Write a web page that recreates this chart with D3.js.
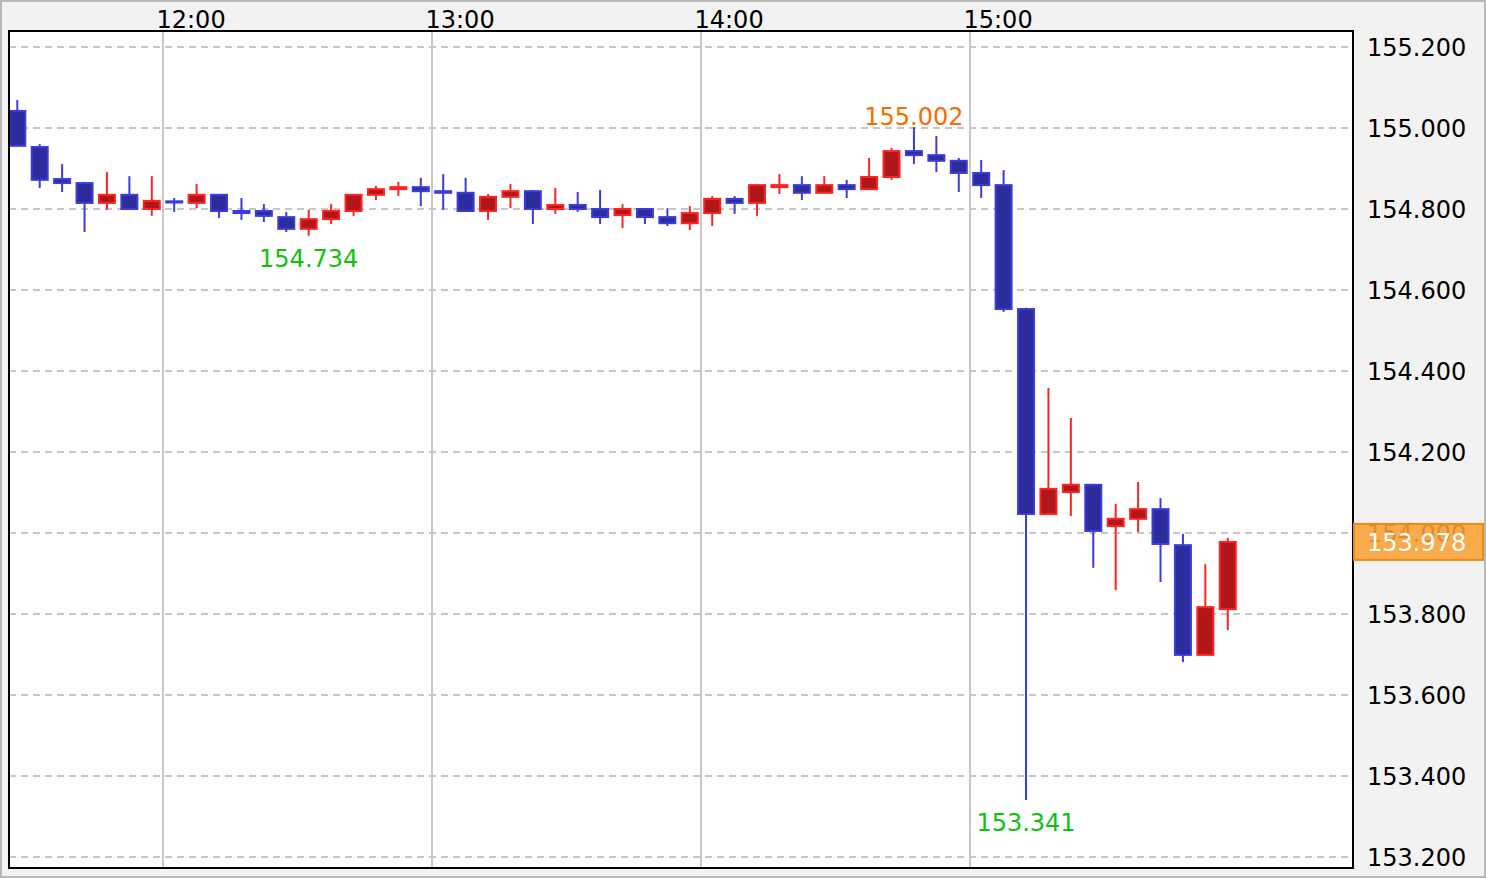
<!DOCTYPE html>
<html>
<head>
<meta charset="utf-8">
<script src="https://cdn.jsdelivr.net/npm/d3@7/dist/d3.min.js"></script>
<style>
  html, body { margin: 0; padding: 0; background: #f2f2f2; }
  svg { display: block; }
  text { font-family: "DejaVu Sans", Verdana, sans-serif; }
</style>
</head>
<body>
<svg id="chart" width="1486" height="878"></svg>
<script>
// ---- data (5-minute candles) ----
const times = ["11:25","11:30","11:35","11:40","11:45","11:50","11:55","12:00","12:05","12:10",
  "12:15","12:20","12:25","12:30","12:35","12:40","12:45","12:50","12:55","13:00",
  "13:05","13:10","13:15","13:20","13:25","13:30","13:35","13:40","13:45","13:50",
  "13:55","14:00","14:05","14:10","14:15","14:20","14:25","14:30","14:35","14:40",
  "14:45","14:50","14:55","15:00","15:05","15:10","15:15","15:20","15:25","15:30",
  "15:35","15:40","15:45","15:50","15:55"];
const open = [155.042,154.953,154.874,154.864,154.815,154.835,154.800,154.819,154.815,154.835,
  154.795,154.795,154.780,154.751,154.775,154.795,154.835,154.849,154.854,154.844,
  154.840,154.795,154.830,154.844,154.800,154.810,154.800,154.785,154.800,154.780,
  154.765,154.790,154.825,154.815,154.854,154.859,154.840,154.859,154.849,154.879,
  154.943,154.933,154.919,154.889,154.859,154.553,154.047,154.101,154.119,154.017,
  154.035,154.059,153.970,153.699,153.812];
const high = [155.069,154.960,154.911,154.867,154.891,154.881,154.881,154.827,154.862,154.837,
  154.827,154.812,154.793,154.798,154.812,154.837,154.857,154.867,154.877,154.886,
  154.877,154.837,154.862,154.847,154.852,154.842,154.847,154.812,154.802,154.802,
  154.807,154.832,154.832,154.862,154.886,154.881,154.881,154.872,154.926,154.951,
  155.002,154.980,154.926,154.921,154.896,154.556,154.358,154.284,154.121,154.072,
  154.126,154.086,153.998,153.923,153.988];
const low = [154.956,154.852,154.842,154.743,154.798,154.800,154.783,154.793,154.802,154.778,
  154.773,154.768,154.743,154.734,154.763,154.783,154.822,154.832,154.807,154.798,
  154.795,154.773,154.802,154.763,154.788,154.793,154.763,154.753,154.763,154.758,
  154.748,154.758,154.788,154.783,154.837,154.822,154.840,154.827,154.849,154.872,
  154.911,154.891,154.842,154.827,154.546,153.341,154.047,154.042,153.914,153.859,
  154.002,153.879,153.681,153.699,153.760];
const close = [154.956,154.872,154.864,154.815,154.835,154.800,154.820,154.816,154.835,154.795,
  154.790,154.783,154.751,154.775,154.795,154.835,154.849,154.854,154.844,154.840,
  154.795,154.830,154.844,154.800,154.810,154.800,154.780,154.800,154.780,154.765,
  154.790,154.825,154.815,154.859,154.859,154.840,154.859,154.849,154.879,154.943,
  154.933,154.919,154.889,154.859,154.553,154.047,154.109,154.119,154.005,154.035,
  154.059,153.973,153.699,153.817,153.978];

const yTicks = [153.2,153.4,153.6,153.8,154.0,154.2,154.4,154.6,154.8,155.0,155.2];
const xTickLabels = ["12:00","13:00","14:00","15:00"];
const highLabel = {time: "14:45", value: 155.002};
const lowLabels = [{time: "12:30", value: 154.734}, {time: "15:10", value: 153.341}];
const lastPrice = 153.978;

// ---- helpers ----
const parseT = s => { const [h, m] = s.split(":").map(Number); return new Date(2024, 0, 1, h, m, 0); };
const candles = times.map((t, i) => ({t: parseT(t), o: open[i], h: high[i], l: low[i], c: close[i]}));

const W = 1486, H = 878;
const plot = {x0: 9, y0: 31, x1: 1353, y1: 868};

const x = d3.scaleTime()
  .domain([new Date(2024,0,1,11,25,39), new Date(2024,0,1,16,25,26)])
  .range([plot.x0, plot.x1]);
const y = d3.scaleLinear().domain([153.2, 155.2]).range([857, 47]);
const half = 150000; // 2.5 minutes in ms: candle centred in its interval
const cx = d => x(new Date(d.t.getTime() + half));

const svg = d3.select("#chart");

// outer frame
svg.append("rect").attr("x", 1).attr("y", 1).attr("width", W - 2).attr("height", H - 2)
  .attr("fill", "#f2f2f2").attr("stroke", "#b8b8b8").attr("stroke-width", 2);

// plot background
svg.append("rect").attr("x", plot.x0).attr("y", plot.y0)
  .attr("width", plot.x1 - plot.x0).attr("height", plot.y1 - plot.y0).attr("fill", "#ffffff");

svg.append("clipPath").attr("id", "clip").append("rect")
  .attr("x", plot.x0).attr("y", plot.y0).attr("width", plot.x1 - plot.x0).attr("height", plot.y1 - plot.y0);

const g = svg.append("g").attr("clip-path", "url(#clip)");

// horizontal dashed grid
g.selectAll("line.hg").data(yTicks).join("line").attr("class", "hg")
  .attr("x1", plot.x0).attr("x2", plot.x1)
  .attr("y1", d => y(d)).attr("y2", d => y(d))
  .attr("stroke", "#c8c8c8").attr("stroke-width", 2).attr("stroke-dasharray", "7,5");

// vertical grid
const xTicks = xTickLabels.map(parseT);
g.selectAll("line.vg").data(xTicks).join("line").attr("class", "vg")
  .attr("x1", d => x(d)).attr("x2", d => x(d))
  .attr("y1", plot.y0).attr("y2", plot.y1)
  .attr("stroke", "#c8c8c8").attr("stroke-width", 2);

// candles
const up = d => d.c >= d.o;
const bodyW = 16;
g.selectAll("line.wick").data(candles).join("line").attr("class", "wick")
  .attr("x1", cx).attr("x2", cx)
  .attr("y1", d => y(d.h)).attr("y2", d => y(d.l))
  .attr("stroke", d => up(d) ? "#ff2424" : "#3c3cdc").attr("stroke-width", 2);
g.selectAll("rect.body").data(candles).join("rect").attr("class", "body")
  .attr("x", d => cx(d) - bodyW / 2).attr("width", bodyW)
  .attr("y", d => Math.min(y(d.o), y(d.c)))
  .attr("height", d => Math.max(Math.abs(y(d.o) - y(d.c)), 1))
  .attr("fill", d => up(d) ? "#b0161a" : "#2c2c9c")
  .attr("stroke", d => up(d) ? "#ff2424" : "#3c3cdc").attr("stroke-width", 2);

// high / low annotations
const byTime = s => candles[times.indexOf(s)];
svg.append("text").attr("x", cx(byTime(highLabel.time))).attr("y", y(highLabel.value) - 2)
  .attr("text-anchor", "middle").attr("font-size", 24).attr("fill", "#ff6a00")
  .text(highLabel.value.toFixed(3));
svg.selectAll("text.lowlab").data(lowLabels).join("text").attr("class", "lowlab")
  .attr("x", d => cx(byTime(d.time))).attr("y", d => y(d.value) + 31)
  .attr("text-anchor", "middle").attr("font-size", 24).attr("fill", "#11c011")
  .text(d => d.value.toFixed(3));

// plot border
svg.append("rect").attr("x", plot.x0).attr("y", plot.y0)
  .attr("width", plot.x1 - plot.x0).attr("height", plot.y1 - plot.y0)
  .attr("fill", "none").attr("stroke", "#000").attr("stroke-width", 2);

// y axis (right)
const yAxis = d3.axisRight(y).tickValues(yTicks).tickFormat(d3.format(".3f")).tickSize(0).tickPadding(14);
const ya = svg.append("g").attr("transform", `translate(${plot.x1},0)`).call(yAxis);
ya.select(".domain").remove();
ya.selectAll("text").attr("font-size", 24).attr("fill", "#000").attr("font-family", "DejaVu Sans").attr("dy", "0.37em");

// x axis (top): labels start just left of their gridline
const xAxis = d3.axisTop(x).tickValues(xTicks).tickFormat(d3.timeFormat("%H:%M")).tickSize(0).tickPadding(3);
const xa = svg.append("g").attr("transform", `translate(0,${plot.y0})`).call(xAxis);
xa.select(".domain").remove();
xa.selectAll("text").attr("font-size", 24).attr("fill", "#000").attr("font-family", "DejaVu Sans")
  .attr("text-anchor", "start").attr("x", -7);

// last price marker
const ly = y(lastPrice);
svg.append("rect").attr("x", plot.x1 + 1).attr("y", ly - 18).attr("width", 129).attr("height", 36)
  .attr("fill", "#f8a033").attr("fill-opacity", 0.88).attr("stroke", "#ee8a10").attr("stroke-width", 2);
svg.append("text").attr("x", plot.x1 + 14).attr("y", ly).attr("dy", "0.37em")
  .attr("font-size", 24).attr("fill", "#ffffff").text(lastPrice.toFixed(3));
</script>
</body>
</html>
